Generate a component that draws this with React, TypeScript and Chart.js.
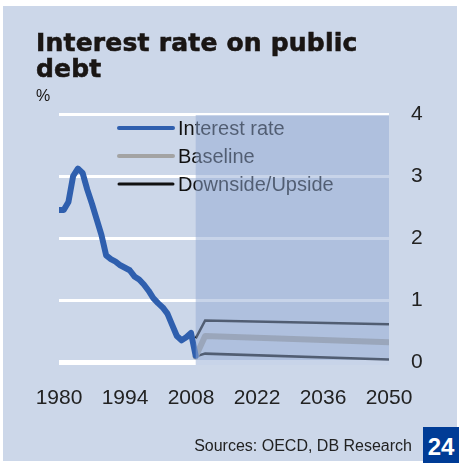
import React, { useEffect, useRef } from "react";
import { Chart, registerables } from "chart.js";

Chart.register(...registerables);

const TITLE = "Interest rate on public debt";
const UNIT = "%";
const SOURCE = "Sources: OECD, DB Research";
const PAGE_NO = "24";

const HIST_YEARS = [
  1980, 1981, 1982, 1983, 1984, 1985, 1986, 1987, 1988, 1989, 1990, 1991, 1992, 1993, 1994,
  1995, 1996, 1997, 1998, 1999, 2000, 2001, 2002, 2003, 2004, 2005, 2006, 2007, 2008, 2009,
];
const INTEREST = [
  2.45, 2.45, 2.58, 3.0, 3.12, 3.05, 2.78, 2.55, 2.3, 2.05, 1.72, 1.66, 1.62, 1.56, 1.52,
  1.48, 1.38, 1.33, 1.25, 1.15, 1.03, 0.95, 0.88, 0.78, 0.6, 0.42, 0.35, 0.4, 0.47, 0.1,
];
const PROJ_YEARS = [2009, 2011, 2050];
const BASELINE = [0.09, 0.42, 0.32];
const UPSIDE = [0.38, 0.67, 0.61];
const DOWNSIDE = [0.09, 0.135, 0.04];

const X_TICKS = [1980, 1994, 2008, 2022, 2036, 2050];
const Y_TICKS = [0, 1, 2, 3, 4];
const SHADE_FROM = 2009;
const SHADE_TO = 2050;

const LEGEND_LABELS = ["Interest rate", "Baseline", "Downside/Upside"];

const FONT = "'Liberation Sans', Arial, Helvetica, sans-serif";

const toPts = (xs: number[], ys: number[]) => xs.map((x, i) => ({ x, y: ys[i] }));

const overlayPlugin = {
  id: "overlayLegend",
  afterDatasetsDraw(chart: any) {
    const { ctx, chartArea, scales } = chart;
    const x = scales.x;
    const y = scales.y;
    ctx.save();
    // legend
    const colors = ["#2f5fae", "#a3a3a3", "#111111"];
    const widths = [4, 4, 3];
    const lx0 = chartArea.left + 60;
    const lx1 = chartArea.left + 114;
    const tx = chartArea.left + 119;
    ctx.font = `20px ${FONT}`;
    ctx.textBaseline = "alphabetic";
    ctx.textAlign = "left";
    LEGEND_LABELS.forEach((label, i) => {
      const base = chartArea.top + 21 + i * 28;
      ctx.strokeStyle = colors[i];
      ctx.lineWidth = widths[i];
      ctx.lineCap = "round";
      ctx.beginPath();
      ctx.moveTo(lx0, base - 7);
      ctx.lineTo(lx1, base - 7);
      ctx.stroke();
      ctx.fillStyle = "#111111";
      ctx.fillText(label, tx, base);
    });
    // forecast shading overlay
    const left = x.getPixelForValue(SHADE_FROM);
    const right = x.getPixelForValue(SHADE_TO);
    const top = y.getPixelForValue(4) + 1;
    const bottom = y.getPixelForValue(0) + 3;
    ctx.fillStyle = "rgba(146,170,212,0.5)";
    ctx.fillRect(left, top, right - left, bottom - top);
    ctx.restore();
  },
};

export default function App() {
  const ref = useRef<HTMLCanvasElement | null>(null);

  useEffect(() => {
    if (!ref.current) return;
    const chart = new Chart(ref.current, {
      type: "line",
      data: {
        datasets: [
          {
            label: "Interest rate",
            data: toPts(HIST_YEARS, INTEREST),
            borderColor: "#2f5fae",
            borderWidth: 6,
            pointRadius: 0,
            tension: 0,
            borderJoinStyle: "round",
            borderCapStyle: "round",
            order: 1,
          },
          {
            label: "Baseline",
            data: toPts(PROJ_YEARS, BASELINE),
            borderColor: "#a3a3a3",
            borderWidth: 6,
            pointRadius: 0,
            tension: 0,
            borderJoinStyle: "round",
            borderCapStyle: "round",
            order: 2,
          },
          {
            label: "Upside",
            data: toPts(PROJ_YEARS, UPSIDE),
            borderColor: "#111111",
            borderWidth: 2.5,
            pointRadius: 0,
            tension: 0,
            order: 3,
          },
          {
            label: "Downside/Upside",
            data: toPts(PROJ_YEARS, DOWNSIDE),
            borderColor: "#111111",
            borderWidth: 2.5,
            pointRadius: 0,
            tension: 0,
            order: 3,
          },
        ],
      },
      options: {
        animation: false,
        responsive: false,
        devicePixelRatio: 1,
        layout: { padding: { left: 59, top: 114, right: 0, bottom: 0 } },
        plugins: {
          legend: { display: false },
          tooltip: { enabled: false },
          title: { display: false },
        },
        scales: {
          x: {
            type: "linear",
            min: X_TICKS[0],
            max: X_TICKS[X_TICKS.length - 1],
            afterBuildTicks: (s: any) => {
              s.ticks = X_TICKS.map((v) => ({ value: v }));
            },
            afterFit: (s: any) => {
              s.height = 101;
            },
            grid: { display: false, drawTicks: false },
            border: { display: false },
            ticks: {
              padding: 24,
              maxRotation: 0,
              autoSkip: false,
              color: "#222222",
              font: { family: FONT, size: 21 },
              callback: (v: any) => String(v),
            },
          },
          y: {
            position: "right",
            min: Y_TICKS[0],
            max: Y_TICKS[Y_TICKS.length - 1],
            afterBuildTicks: (s: any) => {
              s.ticks = Y_TICKS.map((v) => ({ value: v }));
            },
            afterFit: (s: any) => {
              s.width = 71;
            },
            grid: {
              color: "#ffffff",
              lineWidth: (c: any) => (c.tick && c.tick.value === 0 ? 5 : 3),
              drawTicks: false,
            },
            border: { display: false },
            ticks: {
              padding: 22,
              color: "#222222",
              font: { family: FONT, size: 21 },
              callback: (v: any) => String(v),
            },
          },
        },
      },
      plugins: [overlayPlugin],
    } as any);
    return () => chart.destroy();
  }, []);

  return (
    <div
      style={{
        position: "fixed",
        left: 0,
        top: 0,
        width: 460,
        height: 463,
        background: "#ffffff",
        overflow: "hidden",
      }}
    >
      <div
        style={{
          position: "absolute",
          left: 3,
          top: 6,
          width: 454,
          height: 455,
          background: "#ccd7e9",
        }}
      />
      <canvas
        ref={ref}
        width={460}
        height={463}
        style={{ position: "absolute", left: 0, top: 0, width: 460, height: 463 }}
      />
      <div
        style={{
          position: "absolute",
          left: 36,
          top: 30,
          width: 360,
          fontFamily: "'DejaVu Sans', sans-serif",
          fontWeight: 700,
          fontSize: 25,
          lineHeight: "26px",
          letterSpacing: 0.2,
          color: "#1a1614",
          WebkitTextStroke: "0.6px #1a1614",
        }}
      >
        {TITLE}
      </div>
      <div
        style={{
          position: "absolute",
          left: 36,
          top: 88,
          fontFamily: FONT,
          fontSize: 16,
          lineHeight: "16px",
          color: "#1a1614",
        }}
      >
        {UNIT}
      </div>
      <div
        style={{
          position: "absolute",
          right: 48,
          top: 437,
          fontFamily: FONT,
          fontSize: 16,
          lineHeight: "18px",
          whiteSpace: "nowrap",
          color: "#222222",
        }}
      >
        {SOURCE}
      </div>
      <div
        style={{
          position: "absolute",
          left: 423,
          top: 427,
          width: 36,
          height: 36,
          background: "#003c96",
          color: "#ffffff",
          fontFamily: FONT,
          fontWeight: 700,
          fontSize: 24,
          lineHeight: "40px",
          textAlign: "center",
        }}
      >
        {PAGE_NO}
      </div>
    </div>
  );
}
